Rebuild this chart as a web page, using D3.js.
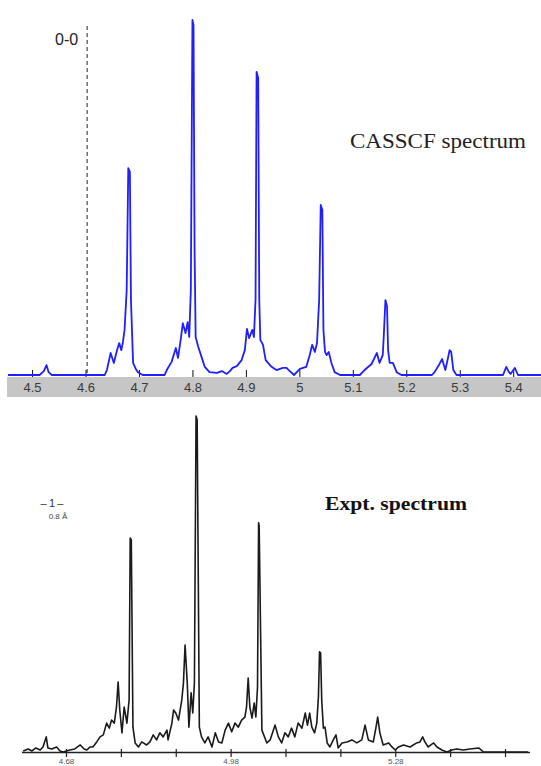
<!DOCTYPE html>
<html>
<head>
<meta charset="utf-8">
<script src="https://cdn.jsdelivr.net/npm/d3@7"></script>
<style>
  html, body { margin: 0; padding: 0; background: #fff; }
  svg { display: block; }
</style>
</head>
<body>
<svg id="chart" width="541" height="766"></svg>
<script>
// ---------- DATA ----------
// CASSCF (calculated) spectrum: energy (eV) and relative intensity
const casscfEnergy = [4.455,4.514,4.522,4.527,4.531,4.537,4.636,4.640,4.647,4.653,4.658,4.663,4.667,4.670,4.673,4.677,4.680,4.683,4.685,4.689,4.694,4.698,4.707,
  4.748,4.752,4.761,4.769,4.773,4.778,4.782,4.787,4.791,4.794,4.797,4.800,4.802,4.804,4.806,4.811,4.817,4.823,4.832,4.846,4.855,4.864,4.870,4.875,4.883,
  4.892,4.898,4.902,4.906,4.912,4.915,4.918,4.920,4.923,4.925,4.927,4.932,4.937,4.948,4.957,4.969,4.976,4.982,4.990,
  5.001,5.013,5.019,5.024,5.029,5.033,5.037,5.040,5.043,5.045,5.048,5.051,5.055,5.060,5.066,5.076,
  5.113,5.122,5.135,5.145,5.150,5.156,5.158,5.161,5.164,5.166,5.169,5.175,5.182,5.191,
  5.248,5.253,5.261,5.267,5.273,5.278,5.281,5.284,5.288,5.294,
  5.381,5.387,5.392,5.395,5.403,5.409,5.452];
const casscfIntensity = [0,0,0.011,0.028,0.008,0,0,0.014,0.062,0.034,0.065,0.090,0.070,0.093,0.127,0.239,0.583,0.572,0.211,0.034,0.017,0.008,0,
  0,0.014,0.037,0.076,0.048,0.099,0.146,0.118,0.149,0.107,0.239,1.0,0.986,0.352,0.107,0.079,0.051,0.023,0.008,0.006,0.011,0.003,0.011,0.020,0.025,
  0.042,0.070,0.130,0.104,0.127,0.107,0.211,0.854,0.837,0.211,0.099,0.085,0.042,0.023,0.014,0.020,0.020,0.011,0,
  0.017,0.023,0.054,0.085,0.065,0.090,0.211,0.479,0.465,0.127,0.065,0.056,0.065,0.034,0.008,0,
  0,0.014,0.031,0.062,0.034,0.056,0.113,0.211,0.194,0.070,0.034,0.034,0.008,0,
  0,0.008,0.028,0.045,0.014,0.048,0.070,0.065,0.014,0,
  0,0.023,0.008,0.003,0.020,0,0];

// Experimental spectrum: energy (eV) and relative intensity
const exptEnergy = [4.602,4.611,4.618,4.625,4.633,4.638,4.644,4.647,4.654,4.663,4.669,4.675,4.687,4.696,4.706,4.713,4.718,4.724,4.729,4.736,
  4.742,4.748,4.754,4.759,4.763,4.768,4.772,4.775,4.778,4.782,4.786,4.791,4.795,4.797,4.799,4.802,4.806,4.812,4.818,4.827,
  4.833,4.839,4.845,4.851,4.857,4.864,4.866,4.873,4.876,4.880,4.885,4.891,4.894,4.897,4.901,4.904,4.908,4.911,4.914,4.917,
  4.919,4.923,4.927,4.933,4.939,4.946,4.952,4.958,4.964,4.970,4.976,4.982,4.988,4.994,5.000,5.006,5.009,5.012,5.015,5.019,
  5.023,5.026,5.029,5.031,5.032,5.037,5.046,5.052,5.061,5.067,5.073,5.079,5.085,5.091,5.097,5.103,5.110,5.116,5.120,5.124,
  5.128,5.133,5.137,5.140,5.142,5.144,5.146,5.149,5.152,5.156,5.161,5.167,5.172,5.176,5.183,5.192,5.201,5.210,5.219,5.225,
  5.231,5.240,5.245,5.248,5.252,5.258,5.268,5.274,5.280,5.286,5.295,5.307,5.319,5.325,5.330,5.334,5.340,5.350,5.356,5.365,
  5.374,5.383,5.392,5.404,5.416,5.432,5.441,5.453,5.477,5.502,5.522];
const exptIntensity = [0.003,0.009,0.003,0.012,0.006,0.015,0.045,0.012,0.009,0.015,0.003,0,0.006,0.009,0.021,0.009,0.006,0.015,0.015,0.030,
  0.045,0.051,0.086,0.071,0.095,0.086,0.134,0.208,0.125,0.057,0.134,0.086,0.155,0.637,0.631,0.074,0.027,0.015,0.030,0.021,
  0.030,0.051,0.036,0.057,0.045,0.065,0.036,0.086,0.125,0.116,0.095,0.155,0.205,0.318,0.205,0.074,0.176,0.116,0.205,1.0,
  0.988,0.074,0.045,0.027,0.045,0.015,0.057,0.030,0.027,0.065,0.086,0.060,0.086,0.074,0.095,0.104,0.134,0.220,0.134,0.101,
  0.146,0.104,0.193,0.682,0.673,0.065,0.027,0.036,0.080,0.045,0.027,0.057,0.045,0.071,0.045,0.086,0.071,0.116,0.080,0.116,
  0.074,0.057,0.086,0.164,0.298,0.295,0.155,0.071,0.074,0.027,0.015,0.036,0.051,0.012,0.027,0.030,0.036,0.027,0.036,0.080,
  0.036,0.030,0.074,0.104,0.057,0.021,0.027,0.015,0.006,0.015,0.021,0.015,0.027,0.030,0.045,0.030,0.015,0.027,0.015,0.006,
  0,0.006,0.009,0.006,0.009,0.012,0,0,0,0,0];

const topTickValues = [4.5,4.6,4.7,4.8,4.9,5.0,5.1,5.2,5.3,5.4];
const topTickLabels = ["4.5","4.6","4.7","4.8","4.9","5","5.1","5.2","5.3","5.4"];
const bottomTickValues = [4.68,4.78,4.88,4.98,5.08,5.18,5.28,5.38,5.48];
const bottomTickLabels = ["4.68","","","4.98","","","5.28","",""];
const zeroZeroEnergy = 4.603;

// ---------- CHART ----------
const svg = d3.select("#chart");
svg.append("rect").attr("width", 541).attr("height", 766).attr("fill", "#fff");

// Top panel (CASSCF)
const xTop = d3.scaleLinear().domain([4.455, 5.452]).range([8, 541]);
const yTop = d3.scaleLinear().domain([0, 1]).range([375, 20]);

// grey label band
svg.append("rect").attr("x", 7).attr("y", 377).attr("width", 534).attr("height", 20).attr("fill", "#c6c6c6");

// 0-0 dashed line
svg.append("line")
  .attr("x1", xTop(zeroZeroEnergy)).attr("x2", xTop(zeroZeroEnergy))
  .attr("y1", 26).attr("y2", yTop(0))
  .attr("stroke", "#222").attr("stroke-width", 1).attr("stroke-dasharray", "4,3");
svg.append("text").attr("x", 55).attr("y", 45)
  .attr("font-family", "Liberation Sans, Arial, sans-serif").attr("font-size", 16).attr("fill", "#222")
  .text("0-0");

const topAxis = d3.axisBottom(xTop).tickValues(topTickValues)
  .tickFormat((d, i) => topTickLabels[i]).tickSizeInner(-5).tickSizeOuter(0).tickPadding(8);
const gTop = svg.append("g").attr("transform", "translate(0,375)").call(topAxis);
gTop.select(".domain").remove();
gTop.selectAll(".tick line").attr("stroke", "#111").attr("stroke-width", 1).attr("y1", 2);
gTop.selectAll(".tick text").attr("font-family", "Liberation Sans, Arial, sans-serif")
  .attr("font-size", 13).attr("fill", "#3a3a3a");

const topLine = d3.line().x((d, i) => xTop(casscfEnergy[i])).y((d) => yTop(d));
svg.append("path").datum(casscfIntensity)
  .attr("d", topLine).attr("fill", "none").attr("stroke", "#1f1fff")
  .attr("stroke-width", 1.8).attr("stroke-linejoin", "round");

svg.append("text").attr("x", 350).attr("y", 148)
  .attr("font-family", "Liberation Serif, Times New Roman, serif").attr("font-size", 22).attr("fill", "#222")
  .attr("textLength", 176).attr("lengthAdjust", "spacingAndGlyphs")
  .text("CASSCF spectrum");

// Bottom panel (experiment)
const xBot = d3.scaleLinear().domain([4.68, 5.48]).range([66, 505]);
const yBot = d3.scaleLinear().domain([0, 1]).range([752, 416]);

svg.append("line").attr("x1", 22).attr("x2", 530).attr("y1", 752.5).attr("y2", 752.5)
  .attr("stroke", "#222").attr("stroke-width", 1.6);

const botAxis = d3.axisBottom(xBot).tickValues(bottomTickValues)
  .tickFormat((d, i) => bottomTickLabels[i]).tickSizeInner(5).tickSizeOuter(0).tickPadding(1);
const gBot = svg.append("g").attr("transform", "translate(0,752)").call(botAxis);
gBot.select(".domain").remove();
gBot.selectAll(".tick line").attr("stroke", "#222").attr("stroke-width", 1.2).attr("y1", -3);
gBot.selectAll(".tick text").attr("font-family", "Liberation Sans, Arial, sans-serif")
  .attr("font-size", 8).attr("fill", "#555");

const botLine = d3.line().x((d, i) => xBot(exptEnergy[i])).y((d) => yBot(d));
svg.append("path").datum(exptIntensity)
  .attr("d", botLine).attr("fill", "none").attr("stroke", "#1a1a1a")
  .attr("stroke-width", 1.6).attr("stroke-linejoin", "round");

svg.append("text").attr("x", 325).attr("y", 510)
  .attr("font-family", "Liberation Serif, Times New Roman, serif").attr("font-size", 19)
  .attr("font-weight", "bold").attr("fill", "#111")
  .attr("textLength", 142).attr("lengthAdjust", "spacingAndGlyphs")
  .text("Expt. spectrum");

// scale marker
svg.append("text").attr("x", 52).attr("y", 507).attr("text-anchor", "middle")
  .attr("font-family", "Liberation Sans, Arial, sans-serif").attr("font-size", 11).attr("fill", "#333")
  .text("\u2013\u20091\u2009\u2013");
svg.append("text").attr("x", 58).attr("y", 519).attr("text-anchor", "middle")
  .attr("font-family", "Liberation Sans, Arial, sans-serif").attr("font-size", 8).attr("fill", "#444")
  .text("0.8 \u00C5");
</script>
</body>
</html>
